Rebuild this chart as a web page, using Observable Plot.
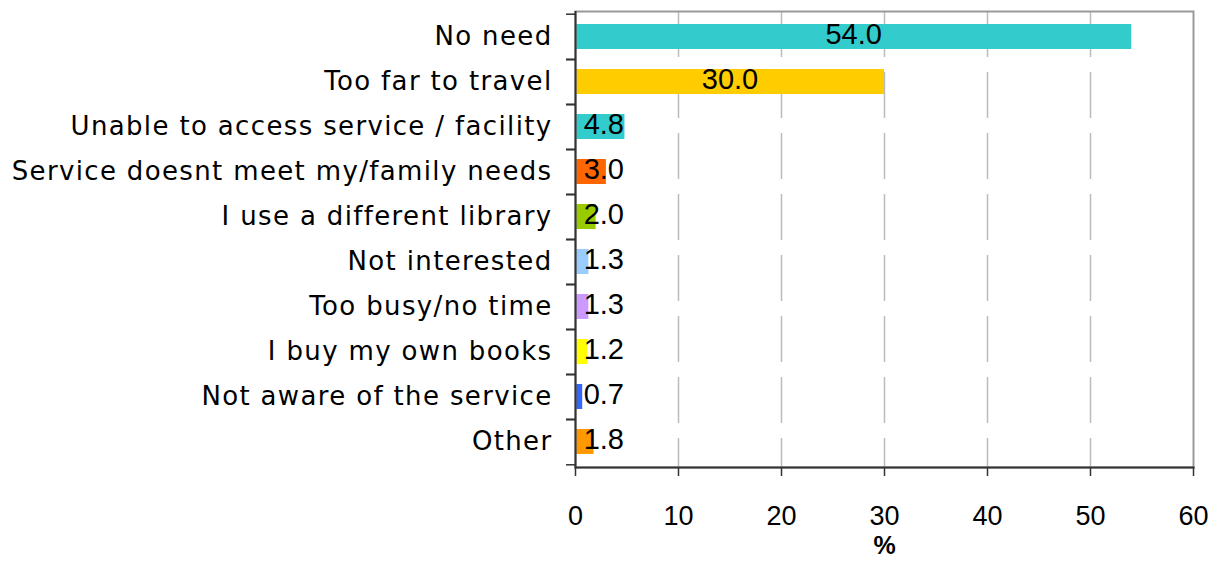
<!DOCTYPE html>
<html>
<head>
<meta charset="utf-8">
<script src="https://cdn.jsdelivr.net/npm/d3@7"></script>
<script src="https://cdn.jsdelivr.net/npm/@observablehq/plot@0.6"></script>
<style>
  html, body { margin: 0; padding: 0; background: white; }
  g[aria-label="y-axis tick label"] { letter-spacing: 1.35px; }
</style>
</head>
<body>
<div id="chart"></div>
<script>
const categories = [
  "No need",
  "Too far to travel",
  "Unable to access service / facility",
  "Service doesnt meet my/family needs",
  "I use a different library",
  "Not interested",
  "Too busy/no time",
  "I buy my own books",
  "Not aware of the service",
  "Other"
];
const values = [54.0, 30.0, 4.8, 3.0, 2.0, 1.3, 1.3, 1.2, 0.7, 1.8];
const colors = ["#33CCCC", "#FFCC00", "#33CCCC", "#FF6600", "#99CC00", "#99CCFF", "#CC99FF", "#FFFF00", "#3366FF", "#FF9900"];
const xTicks = [0, 10, 20, 30, 40, 50, 60];
const gridTicks = [10, 20, 30, 40, 50];
const xLabel = "%";

const data = categories.map((c, i) => ({category: c, value: values[i], color: colors[i]}));

const W = 1220, H = 561, mT = 11, mB = 94, mL = 575, mR = 27;
const step = (H - mT - mB) / categories.length;

const chart = Plot.plot({
  width: W,
  height: H,
  marginLeft: mL,
  marginRight: mR,
  marginTop: mT,
  marginBottom: mB,
  style: {fontFamily: "'Liberation Sans', Arial, sans-serif", background: "white", color: "black", overflow: "visible"},
  x: {domain: [0, 60], ticks: xTicks},
  y: {domain: categories, paddingInner: 0.435, paddingOuter: 0.2175},
  marks: [
    Plot.gridX(gridTicks, {stroke: "#bbbbbb", strokeOpacity: 1, strokeWidth: 1.5, strokeDasharray: "46,15"}),
    Plot.barX(data, {x: "value", y: "category", fill: "color"}),
    Plot.text(data, {
      x: d => Math.max(d.value / 2, 2.75),
      y: "category",
      text: d => d.value.toFixed(1),
      fontSize: 29,
      fill: "black",
      dy: -2
    }),
    Plot.frame({stroke: "#999999", strokeWidth: 2}),
    Plot.ruleX([0], {stroke: "#333333", strokeWidth: 2}),
    Plot.frame({anchor: "bottom", stroke: "#333333", strokeWidth: 2}),
    Plot.axisX({ticks: xTicks, tickSize: 9, tickPadding: 29, fontSize: 27, stroke: "#333333", strokeWidth: 1.5, label: null}),
    Plot.axisY({tickSize: 0, tickPadding: 23, fontSize: 26, fontFamily: "'DejaVu Sans', sans-serif", label: null}),
    Plot.axisY({tickSize: 9, tickFormat: () => "", dy: -step / 2, stroke: "#333333", strokeWidth: 1.5, label: null}),
    Plot.axisY({tickSize: 9, tickFormat: () => "", dy: step / 2, stroke: "#333333", strokeWidth: 1.5, label: null}),
    Plot.text([xLabel], {frameAnchor: "bottom", text: d => d, dy: 69, lineAnchor: "top", fontWeight: "bold", fontSize: 25, fill: "black"})
  ]
});
document.getElementById("chart").appendChild(chart);
</script>
</body>
</html>
